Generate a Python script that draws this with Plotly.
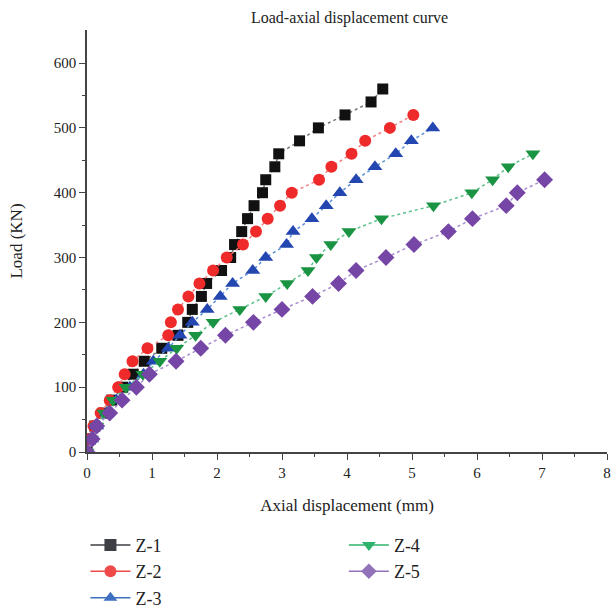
import plotly.graph_objects as go

# Loads (kN) at 20 kN steps
load_z1 = list(range(0, 561, 20))
disp_z1 = [0, 0.05, 0.12, 0.25, 0.38, 0.55, 0.71, 0.88, 1.15, 1.40, 1.55, 1.62, 1.76, 1.84,
           2.07, 2.21, 2.27, 2.38, 2.47, 2.57, 2.70, 2.75, 2.89, 2.95, 3.27, 3.56, 3.97, 4.37, 4.55]

load_z2 = list(range(0, 521, 20))
disp_z2 = [0, 0.04, 0.10, 0.21, 0.35, 0.48, 0.58, 0.70, 0.93, 1.25, 1.29, 1.40, 1.56, 1.73,
           1.94, 2.15, 2.40, 2.60, 2.78, 2.97, 3.15, 3.57, 3.76, 4.07, 4.28, 4.66, 5.02]

load_z3 = list(range(0, 501, 20))
disp_z3 = [0, 0.07, 0.15, 0.30, 0.45, 0.66, 0.87, 1.02, 1.25, 1.43, 1.62, 1.85, 2.05, 2.24,
           2.55, 2.75, 3.07, 3.17, 3.46, 3.68, 3.89, 4.14, 4.43, 4.75, 4.99, 5.32]

load_z4 = list(range(0, 461, 20))
disp_z4 = [0, 0.07, 0.15, 0.26, 0.40, 0.60, 0.86, 1.12, 1.38, 1.67, 1.94, 2.35, 2.75, 3.08,
           3.40, 3.53, 3.75, 4.03, 4.53, 5.33, 5.92, 6.24, 6.48, 6.86]

load_z5 = list(range(0, 421, 20))
disp_z5 = [0, 0.08, 0.15, 0.35, 0.54, 0.76, 0.96, 1.37, 1.75, 2.13, 2.56, 3.00, 3.47, 3.87,
           4.14, 4.60, 5.03, 5.56, 5.93, 6.45, 6.62, 7.04]

names = ["Z-1", "Z-2", "Z-3", "Z-4", "Z-5"]
xs = [disp_z1, disp_z2, disp_z3, disp_z4, disp_z5]
ys = [load_z1, load_z2, load_z3, load_z4, load_z5]
marker_colors = ["#111111", "#ee2a2a", "#2346b0", "#1a9442", "#7546a6"]
line_colors = ["#777777", "#f08080", "#5b8fd8", "#5cc08a", "#a98bd0"]
legend_colors = ["#3d3f44", "#ef4a4a", "#3f6fbf", "#2fb36c", "#9272b8"]
symbols = ["square", "circle", "triangle-up", "triangle-down", "diamond"]
sizes = [11, 12, 13, 13, 13]

SERIF = "Liberation Serif"
fig = go.Figure()
for i in range(5):
    fig.add_trace(go.Scatter(
        x=xs[i], y=ys[i], mode="lines+markers", showlegend=False,
        line=dict(color=line_colors[i], width=1.5, dash="dot"),
        marker=dict(symbol=symbols[i], size=sizes[i], color=marker_colors[i]),
    ))
for i in range(5):
    fig.add_trace(go.Scatter(
        x=[None], y=[None], mode="lines+markers", name=names[i],
        line=dict(color=legend_colors[i], width=1.5),
        marker=dict(symbol=symbols[i], size=12, color=legend_colors[i]),
        legend="legend" if i < 3 else "legend2",
    ))

fig.update_layout(
    width=613, height=611,
    margin=dict(l=87, r=6, t=30, b=159, autoexpand=False),
    paper_bgcolor="white", plot_bgcolor="white",
    font=dict(family=SERIF, color="#222222", size=15),
    title=dict(text="Load-axial displacement curve", x=0.505, xref="paper", xanchor="center",
               y=0.972, yref="container", yanchor="middle", font=dict(size=16, family=SERIF, color="#222")),
    xaxis=dict(range=[0, 8], dtick=1, showgrid=False, zeroline=False,
               showline=True, linecolor="#444", linewidth=1.5,
               ticks="outside", ticklen=6, tickwidth=1.3, tickcolor="#444",
               minor=dict(dtick=0.5, ticks="outside", ticklen=3, tickcolor="#444", tickwidth=1.2),
               title=dict(text="Axial displacement (mm)", font=dict(size=17, family=SERIF), standoff=19),
               tickfont=dict(size=15, family=SERIF)),
    yaxis=dict(range=[0, 651], tickvals=[0, 100, 200, 300, 400, 500, 600], showgrid=False, zeroline=False,
               showline=True, linecolor="#444", linewidth=1.5,
               ticks="outside", ticklen=6, tickwidth=1.3, tickcolor="#444",
               minor=dict(tickvals=[50, 150, 250, 350, 450, 550], ticks="outside", ticklen=3, tickcolor="#444", tickwidth=1.2),
               title=dict(text="Load (KN)", font=dict(size=17, family=SERIF), standoff=27),
               tickfont=dict(size=15, family=SERIF)),
    legend=dict(x=-0.003, y=-0.177, xanchor="left", yanchor="top", orientation="v",
                font=dict(size=18, family=SERIF, color="#222"), tracegroupgap=0, itemwidth=40,
                bgcolor="rgba(0,0,0,0)"),
    legend2=dict(x=0.494, y=-0.177, xanchor="left", yanchor="top", orientation="v",
                 font=dict(size=18, family=SERIF, color="#222"), tracegroupgap=0, itemwidth=40,
                 bgcolor="rgba(0,0,0,0)"),
)

fig.write_html("out.html")
